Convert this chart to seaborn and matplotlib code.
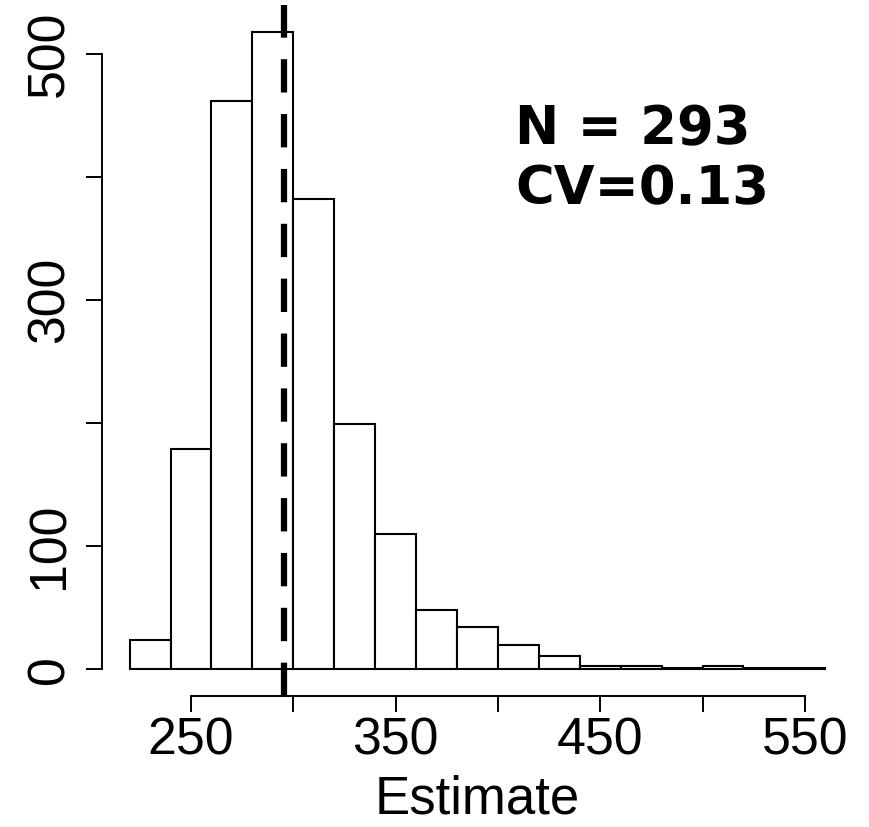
import matplotlib
matplotlib.use("Agg")
import matplotlib.pyplot as plt
import seaborn as sns
import numpy as np
import pandas as pd

# ---- data ----
bin_edges = [220, 240, 260, 280, 300, 320, 340, 360, 380, 400, 420, 440,
             460, 480, 500, 520, 540, 560]
counts = [24, 179, 462, 518, 382, 199, 110, 48, 34, 20, 11, 3, 3, 1, 3, 1, 1]
true_value = 295.5
x_ticks = [250, 300, 350, 400, 450, 500, 550]
x_ticklabels = ["250", "", "350", "", "450", "", "550"]
y_ticks = [0, 100, 200, 300, 400, 500]
y_ticklabels = ["0", "100", "", "300", "", "500"]
annot_lines = ["N = 293", "CV=0.13"]
x_label = "Estimate"

sns.set_theme(style="white")
plt.rcParams["font.family"] = ["Liberation Sans", "DejaVu Sans"]
plt.rcParams["lines.scale_dashes"] = False

W, H = 869, 827
fig = plt.figure(figsize=(W / 100, H / 100), dpi=100)
left_px, right_px, top_px, bottom_px = 101.8, 853.1, 5.0, 695.5
ax = fig.add_axes([left_px / W, 1 - bottom_px / H,
                   (right_px - left_px) / W, (bottom_px - top_px) / H])

centers = [(a + b) / 2 for a, b in zip(bin_edges[:-1], bin_edges[1:])]
df = pd.DataFrame({"Estimate": centers, "count": counts})
sns.histplot(data=df, x="Estimate", weights="count", bins=bin_edges,
             color="white", edgecolor="black", linewidth=1.5, alpha=1,
             ax=ax)

ax.axvline(true_value, color="black", linewidth=4.5,
           linestyle=(0, (24, 15.5)), ymin=0, ymax=1)

ax.set_xlim(206.4, 573.6)
ax.set_ylim(-21.3, 540)

for s in ["top", "right"]:
    ax.spines[s].set_visible(False)
for s in ["left", "bottom"]:
    ax.spines[s].set_linewidth(1.4)
    ax.spines[s].set_color("black")
ax.spines["left"].set_bounds(0, 500)
ax.spines["bottom"].set_bounds(250, 550)

ax.set_xticks(x_ticks)
ax.set_xticklabels(x_ticklabels)
ax.set_yticks(y_ticks)
ax.set_yticklabels(y_ticklabels)
ax.tick_params(axis="both", direction="out", length=11.5, width=1.4,
               color="black", labelsize=37.4, labelcolor="black")
ax.tick_params(axis="x", pad=3.5, bottom=True)
ax.tick_params(axis="y", pad=8, left=True)
for lab in ax.get_yticklabels():
    lab.set_rotation(90)
    lab.set_va("center")
    lab.set_ha("right")

ax.set_ylabel("")
ax.set_xlabel(x_label, fontsize=38, color="black")
ax.xaxis.set_label_coords(0.5, -(814 - bottom_px) / (bottom_px - top_px))
ax.xaxis.label.set_va("baseline")

fig.text(515 / W, 1 - 144 / H, annot_lines[0], family="DejaVu Sans",
         fontweight="bold", fontsize=38, ha="left", va="baseline",
         color="black")
fig.text(515 / W, 1 - 204 / H, annot_lines[1], family="DejaVu Sans",
         fontweight="bold", fontsize=38, ha="left", va="baseline",
         color="black")

fig.savefig("out.png", dpi=100, facecolor="white")
